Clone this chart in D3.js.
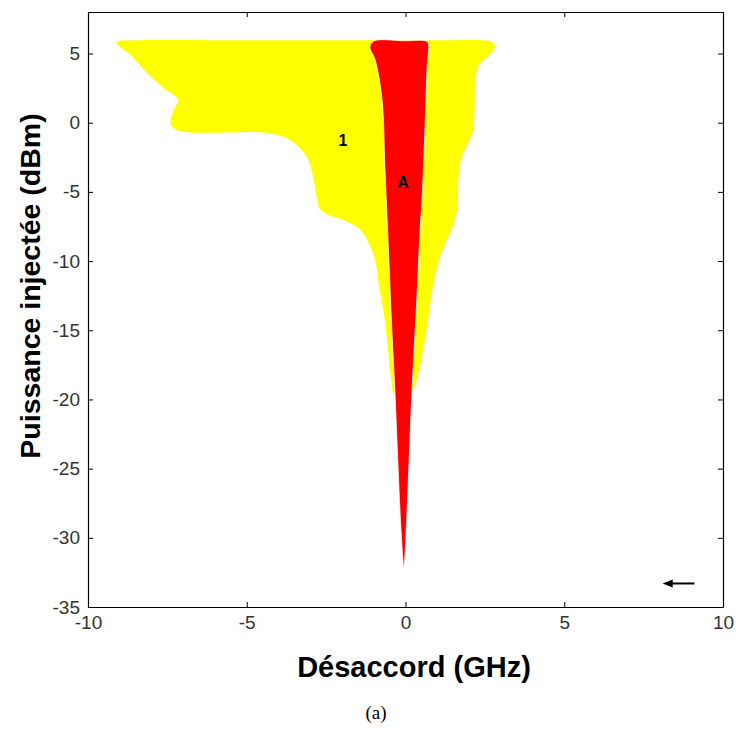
<!DOCTYPE html>
<html>
<head>
<meta charset="utf-8">
<script src="https://cdn.jsdelivr.net/npm/d3@7"></script>
<style>
  html, body { margin: 0; padding: 0; background: #fff; }
  svg { display: block; }
</style>
</head>
<body>
<div id="chart"></div>
<script>
// ---- data ----
const xTicks = [-10, -5, 0, 5, 10];
const yTicks = [-35, -30, -25, -20, -15, -10, -5, 0, 5];
const xTitle = "Désaccord (GHz)";
const yTitle = "Puissance injectée (dBm)";
const caption = "(a)";

// yellow region "1" boundary (detuning GHz, injected power dBm), clockwise
const yellowX = [-9.1, -8.5, -5.0, -1.0, 1.0, 2.4, 2.75, 2.82, 2.6, 2.3, 2.2, 2.18, 2.13, 1.95, 1.75, 1.67, 1.63, 1.42, 1.2, 1.05, 0.85, 0.71, 0.55, 0.4, 0.22, 0.1,
                 -0.35, -0.45, -0.58, -0.7, -0.82, -0.95, -1.1, -1.3, -1.5, -2.0, -2.5, -2.7, -2.8, -2.95, -3.1, -3.4, -3.8, -4.4, -5.5, -6.8, -7.2, -7.38, -7.4, -7.3, -7.16, -7.57, -8.1, -8.68, -9.05];
const yellowY = [5.85, 5.95, 5.95, 5.95, 5.95, 5.95, 5.8, 5.45, 4.8, 4.1, 3.0, 1.7, -0.6, -1.6, -2.6, -4.0, -6.3, -7.9, -9.0, -10.0, -12.0, -14.3, -16.5, -18.2, -19.45, -19.6,
                 -19.6, -18.5, -15.7, -13.5, -12.0, -10.0, -9.0, -8.1, -7.6, -7.0, -6.6, -6.2, -5.3, -3.5, -2.5, -1.7, -1.05, -0.72, -0.7, -0.7, -0.55, -0.2, 0.22, 0.9, 1.67, 2.4, 3.5, 4.93, 5.6];

// red region "A" boundary, clockwise
const redX = [-1.0, 0.0, 0.65, 0.72, 0.68, 0.61, 0.52, 0.46, 0.36, 0.2, 0.11, 0.02, -0.05, -0.14, -0.24, -0.33, -0.43, -0.55, -0.65, -0.74, -0.96, -1.12];
const redY = [5.9, 5.92, 5.9, 5.7, 4.0, -0.7, -5.6, -7.75, -12.6, -19.6, -24.6, -29.5, -32.1, -29.5, -24.6, -19.6, -15.0, -8.5, -3.2, 1.67, 4.56, 5.45];

// region labels
const regionNames = ["1", "A"];
const regionLabelX = [-1.97, -0.08];
const regionLabelY = [-1.3, -4.34];

// arrow (from, to) in data units
const arrowX = [9.1, 8.1];
const arrowY = [-33.3, -33.3];

// ---- layout ----
const W = 736, H = 729;
const mLeft = 88, mRight = 723, mTop = 12, mBottom = 607;

const svg = d3.select("#chart").append("svg")
  .attr("width", W).attr("height", H);

const x = d3.scaleLinear().domain([-10, 10]).range([mLeft, mRight]);
const y = d3.scaleLinear().domain([-35, 8]).range([mBottom, mTop]);

const line = d3.line()
  .x(d => x(d[0])).y(d => y(d[1]))
  .curve(d3.curveCatmullRomClosed.alpha(0.5));

const yellowPts = yellowX.map((v, i) => [v, yellowY[i]]);
const redPts = redX.map((v, i) => [v, redY[i]]);

svg.append("path").attr("d", line(yellowPts))
  .attr("fill", "#ffff00").attr("stroke", "none");
svg.append("path").attr("d", line(redPts))
  .attr("fill", "#ff0000").attr("stroke", "#ffffff").attr("stroke-width", 0.8);

svg.selectAll("text.region").data(regionNames).enter().append("text")
  .attr("class", "region")
  .attr("x", (d, i) => x(regionLabelX[i]))
  .attr("y", (d, i) => y(regionLabelY[i]))
  .attr("text-anchor", "middle")
  .attr("dominant-baseline", "central")
  .attr("font-family", "Liberation Sans, Arial, sans-serif")
  .attr("font-weight", "bold")
  .attr("font-size", 16)
  .attr("fill", "#000")
  .text(d => d);

// arrow
const ax0 = x(arrowX[0]), ax1 = x(arrowX[1]), ay = y(arrowY[0]);
svg.append("line")
  .attr("x1", ax0).attr("y1", ay).attr("x2", ax1 + 6).attr("y2", ay)
  .attr("stroke", "#000").attr("stroke-width", 2);
svg.append("path")
  .attr("d", `M${ax1},${ay} L${ax1 + 10},${ay - 4} L${ax1 + 10},${ay + 4} Z`)
  .attr("fill", "#000");

// axes
const fontFam = "Liberation Sans, Arial, sans-serif";
const fmt = d => String(d);
const gB = svg.append("g").attr("transform", `translate(0,${mBottom})`)
  .call(d3.axisBottom(x).tickValues(xTicks).tickFormat(fmt).tickSizeInner(-5).tickSizeOuter(0).tickPadding(9));
const gL = svg.append("g").attr("transform", `translate(${mLeft},0)`)
  .call(d3.axisLeft(y).tickValues(yTicks).tickFormat(fmt).tickSizeInner(-5).tickSizeOuter(0).tickPadding(8));
const gT = svg.append("g").attr("transform", `translate(0,${mTop})`)
  .call(d3.axisTop(x).tickValues(xTicks).tickSizeInner(-5).tickSizeOuter(0).tickFormat(""));
const gR = svg.append("g").attr("transform", `translate(${mRight},0)`)
  .call(d3.axisRight(y).tickValues(yTicks).tickSizeInner(-5).tickSizeOuter(0).tickFormat(""));

[gB, gL, gT, gR].forEach(g => {
  g.select(".domain").attr("stroke", "#000").attr("stroke-width", 1.2);
  g.selectAll(".tick line").attr("stroke", "#000").attr("stroke-width", 1);
  g.selectAll("text")
    .attr("font-family", fontFam)
    .attr("font-size", 19)
    .attr("fill", "#333");
});

// titles
svg.append("text")
  .attr("x", 414).attr("y", 677)
  .attr("text-anchor", "middle")
  .attr("font-family", fontFam)
  .attr("font-weight", "bold")
  .attr("font-size", 29)
  .attr("fill", "#000")
  .text(xTitle);

svg.append("text")
  .attr("transform", "translate(40,286) rotate(-90)")
  .attr("text-anchor", "middle")
  .attr("font-family", fontFam)
  .attr("font-weight", "bold")
  .attr("font-size", 28.5)
  .attr("fill", "#000")
  .text(yTitle);

svg.append("text")
  .attr("x", 376).attr("y", 719)
  .attr("text-anchor", "middle")
  .attr("font-family", "Liberation Serif, Times New Roman, serif")
  .attr("font-size", 19)
  .attr("fill", "#000")
  .text(caption);
</script>
</body>
</html>
